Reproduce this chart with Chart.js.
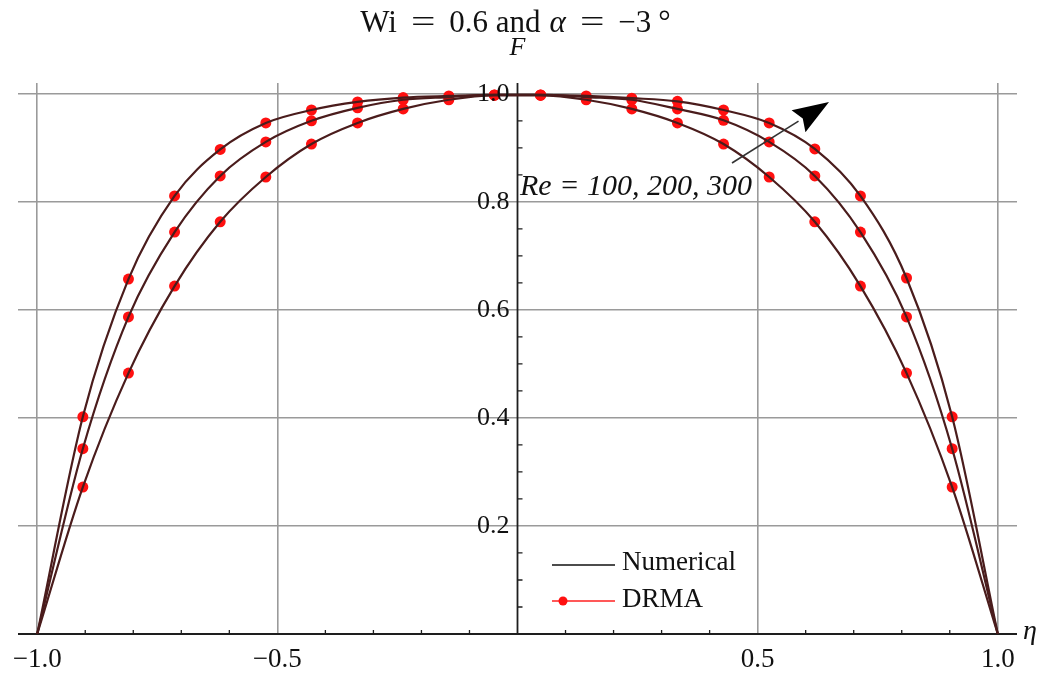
<!DOCTYPE html>
<html lang="en">
<head>
<meta charset="UTF-8">
<title>Velocity profile F(eta)</title>
<script src="https://cdn.jsdelivr.net/npm/chart.js"></script>
<style>
  html, body { margin: 0; padding: 0; background: #fff; }
  .wrap { width: 1058px; height: 680px; position: relative; }
</style>
</head>
<body>
<div class="wrap"><canvas id="profile"></canvas></div>
<script>
// channel coordinate: walls at -1 and 1, DRMA points in between
const eta = [-1, -0.905, -0.810, -0.714, -0.619, -0.524, -0.429, -0.333, -0.238, -0.143, -0.048,
             0.048, 0.143, 0.238, 0.333, 0.429, 0.524, 0.619, 0.714, 0.810, 0.905, 1];
const fRe100 = [0, 0.272, 0.483, 0.644, 0.763, 0.846, 0.907, 0.946, 0.972, 0.989, 0.997,
                0.997, 0.989, 0.972, 0.946, 0.907, 0.846, 0.763, 0.644, 0.483, 0.272, 0];
const fRe200 = [0, 0.343, 0.587, 0.744, 0.848, 0.911, 0.950, 0.974, 0.989, 0.994, 0.998,
                0.998, 0.994, 0.989, 0.972, 0.951, 0.911, 0.848, 0.744, 0.587, 0.343, 0];
const fRe300 = [0, 0.402, 0.657, 0.811, 0.897, 0.946, 0.970, 0.985, 0.993, 0.996, 0.998,
                0.998, 0.996, 0.992, 0.986, 0.970, 0.946, 0.898, 0.811, 0.659, 0.402, 0];
const xTicks = [-1.0, -0.5, 0.5, 1.0];
const xLabels = ['\u22121.0', '\u22120.5', '0.5', '1.0'];
const yTicks = [0.2, 0.4, 0.6, 0.8, 1.0];
const yLabels = ['0.2', '0.4', '0.6', '0.8', '1.0'];

const SERIF = '"Liberation Serif", "Times New Roman", serif';
const LINE = '#4a1c1c';
const DOT = '#ff1010';

function pts(vals) {
  return vals.map((v, i) => ({ x: eta[i], y: v }));
}

// the wall points carry no DRMA marker
function interior(vals) {
  return pts(vals).slice(1, -1);
}

const numerical = [fRe100, fRe200, fRe300].map(v => ({
  label: 'Numerical',
  data: pts(v),
  borderColor: LINE,
  borderWidth: 2.2,
  pointRadius: 0,
  cubicInterpolationMode: 'monotone',
  fill: false
}));

const drma = [fRe100, fRe200, fRe300].map(v => ({
  label: 'DRMA',
  data: interior(v),
  showLine: false,
  pointRadius: 5.5,
  pointBackgroundColor: DOT,
  pointBorderWidth: 0
}));

function text(ctx, str, x, y, font, align) {
  ctx.font = font;
  ctx.textAlign = align || 'center';
  ctx.textBaseline = 'middle';
  ctx.fillText(str, x, y);
}

// pieces: [text, font, horizontal stretch, gap after]
function runCentered(ctx, parts, cx, cy) {
  let total = 0;
  parts.forEach(p => { ctx.font = p[1]; total += ctx.measureText(p[0]).width * p[2] + p[3]; });
  let px = cx - total / 2;
  ctx.textAlign = 'left';
  ctx.textBaseline = 'middle';
  parts.forEach(p => {
    ctx.font = p[1];
    ctx.save();
    ctx.translate(px, cy);
    ctx.scale(p[2], 1);
    ctx.fillText(p[0], 0, 0);
    ctx.restore();
    px += ctx.measureText(p[0]).width * p[2] + p[3];
  });
}

const frame = {
  id: 'frame',
  beforeDatasetsDraw(chart) {
    const { ctx, chartArea: a, scales: { x, y } } = chart;
    const x0 = x.getPixelForValue(0);
    const y0 = y.getPixelForValue(0);
    ctx.save();
    ctx.strokeStyle = '#1e1e1e';
    ctx.lineWidth = 1.8;
    ctx.beginPath();
    ctx.moveTo(a.left, y0); ctx.lineTo(a.right, y0);
    ctx.moveTo(x0, a.top); ctx.lineTo(x0, y0);
    ctx.stroke();

    // minor ticks
    ctx.lineWidth = 1.3;
    ctx.beginPath();
    for (let k = -9; k <= 9; k++) {
      if (k % 5 === 0) continue;
      const px = x.getPixelForValue(k / 10);
      ctx.moveTo(px, y0); ctx.lineTo(px, y0 - 4);
    }
    for (let k = 1; k <= 20; k++) {
      if (k % 4 === 0) continue;
      const py = y.getPixelForValue(k / 20);
      ctx.moveTo(x0, py); ctx.lineTo(x0 + 5, py);
    }
    ctx.stroke();
    ctx.restore();
  },
  afterDraw(chart) {
    const { ctx, chartArea: a, scales: { x, y } } = chart;
    const x0 = x.getPixelForValue(0);
    const y0 = y.getPixelForValue(0);
    ctx.save();
    ctx.fillStyle = '#111';

    // tick labels
    yTicks.forEach((v, i) => {
      text(ctx, yLabels[i], x0 - 8, y.getPixelForValue(v), '26px ' + SERIF, 'right');
    });
    xTicks.forEach((v, i) => {
      text(ctx, xLabels[i], x.getPixelForValue(v), y0 + 26, '27px ' + SERIF, 'center');
    });

    // axis names
    text(ctx, 'F', x0, 48, 'italic 26px ' + SERIF, 'center');
    text(ctx, '\u03b7', a.right + 13, y0 - 2, 'italic 28px ' + SERIF, 'center');

    // title
    const tf = '31px ' + SERIF;
    runCentered(ctx, [
      ['Wi', tf, 1, 14],
      ['=', tf, 1.4, 14],
      ['0.6 and', tf, 1, 9],
      ['\u03b1', 'italic ' + tf, 1, 14],
      ['=', tf, 1.4, 14],
      ['\u22123', tf, 1, 7],
      ['\u00b0', tf, 1, 0]
    ], x0 - 2, 24);

    // Re annotation with arrow
    text(ctx, 'Re = 100, 200, 300', 520, 187, 'italic 30px ' + SERIF, 'left');
    const ax1 = 732, ay1 = 163, ax2 = 829, ay2 = 102;
    const ang = Math.atan2(ay2 - ay1, ax2 - ax1);
    const hl = 36, hw = 13;
    const bx = ax2 - hl * Math.cos(ang), by = ay2 - hl * Math.sin(ang);
    ctx.strokeStyle = '#333';
    ctx.lineWidth = 1.6;
    ctx.beginPath();
    ctx.moveTo(ax1, ay1); ctx.lineTo(bx, by);
    ctx.stroke();
    ctx.beginPath();
    ctx.moveTo(ax2, ay2);
    ctx.lineTo(bx + hw * Math.sin(ang), by - hw * Math.cos(ang));
    ctx.lineTo(bx + 5 * Math.cos(ang), by + 5 * Math.sin(ang));
    ctx.lineTo(bx - hw * Math.sin(ang), by + hw * Math.cos(ang));
    ctx.closePath();
    ctx.fillStyle = '#000';
    ctx.fill();

    // legend
    ctx.lineWidth = 1.6;
    ctx.strokeStyle = '#111';
    ctx.beginPath();
    ctx.moveTo(552, 565); ctx.lineTo(615, 565);
    ctx.stroke();
    ctx.strokeStyle = '#ff2020';
    ctx.beginPath();
    ctx.moveTo(552, 601); ctx.lineTo(615, 601);
    ctx.stroke();
    ctx.fillStyle = DOT;
    ctx.beginPath();
    ctx.arc(563, 601, 4.5, 0, Math.PI * 2);
    ctx.fill();
    ctx.fillStyle = '#111';
    text(ctx, 'Numerical', 622, 563, '27px ' + SERIF, 'left');
    text(ctx, 'DRMA', 622, 600, '27px ' + SERIF, 'left');
    ctx.restore();
  }
};

new Chart(document.getElementById('profile'), {
  type: 'line',
  data: { datasets: [...numerical, ...drma] },
  options: {
    responsive: true,
    maintainAspectRatio: false,
    animation: false,
    devicePixelRatio: 1,
    layout: { padding: { left: 18, right: 41, top: 83, bottom: 46 } },
    plugins: { legend: { display: false }, tooltip: { enabled: false }, title: { display: false } },
    scales: {
      x: {
        type: 'linear',
        min: -1.04,
        max: 1.04,
        afterBuildTicks: s => { s.ticks = xTicks.map(v => ({ value: v })); },
        ticks: { display: false },
        border: { display: false },
        grid: { color: '#9a9a9a', lineWidth: 1.6, drawTicks: false }
      },
      y: {
        type: 'linear',
        min: 0,
        max: 1.02,
        afterBuildTicks: s => { s.ticks = yTicks.map(v => ({ value: v })); },
        ticks: { display: false },
        border: { display: false },
        grid: { color: '#9a9a9a', lineWidth: 1.6, drawTicks: false }
      }
    }
  },
  plugins: [frame]
});
</script>
</body>
</html>
